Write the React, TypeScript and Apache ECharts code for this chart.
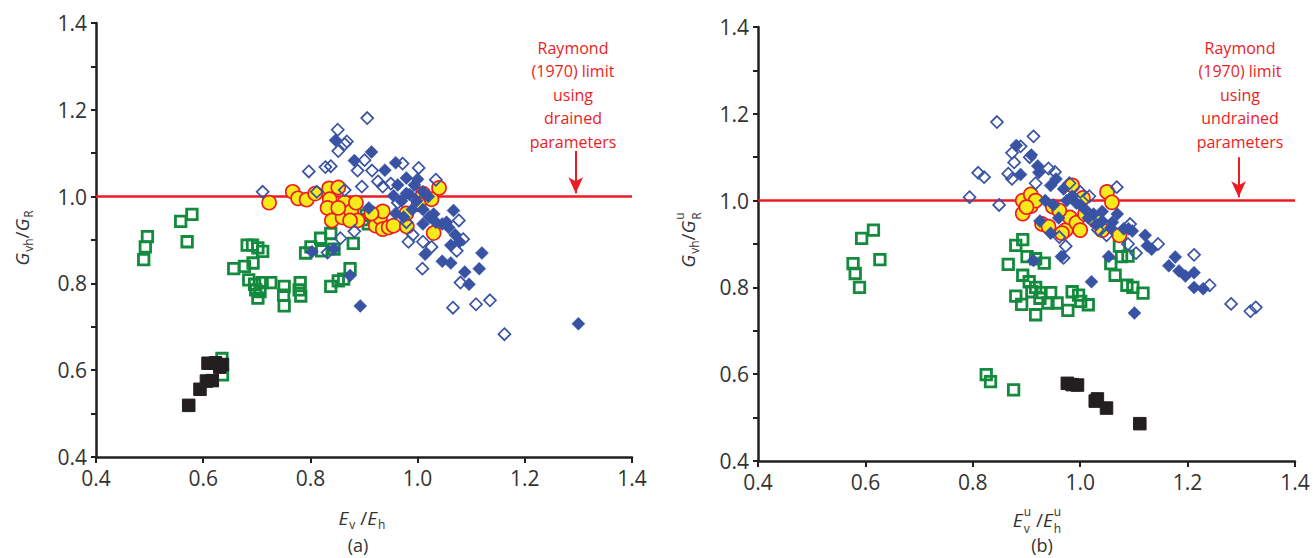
import React, { useEffect, useRef } from "react";
import * as echarts from "echarts";

// ---------- data: panel (a) drained ----------
const blackA = [[0.573,0.519],[0.594,0.556],[0.606,0.575],[0.617,0.576],[0.609,0.616],[0.623,0.617],[0.636,0.613],[0.631,0.607]];
const greenA = [
  [0.489,0.855],[0.492,0.884],[0.496,0.908],[0.558,0.943],[0.579,0.959],[0.570,0.896],
  [0.635,0.627],[0.636,0.589],[0.631,0.609],
  [0.682,0.888],[0.692,0.888],[0.702,0.882],[0.711,0.874],[0.657,0.834],[0.677,0.839],[0.693,0.847],[0.685,0.808],[0.696,0.798],[0.702,0.766],[0.706,0.781],[0.710,0.802],[0.726,0.802],[0.751,0.793],[0.750,0.773],[0.751,0.748],[0.781,0.802],[0.779,0.785],[0.782,0.771],[0.698,0.785],
  [0.791,0.870],[0.801,0.884],[0.819,0.904],[0.838,0.915],[0.821,0.875],[0.880,0.892],[0.838,0.793],[0.852,0.806],[0.862,0.810],[0.874,0.834],[0.844,0.879],[0.904,0.957],[0.908,0.937],[0.898,0.947]
];
const yellowA = [[0.723,0.986],[0.767,1.011],[0.777,0.996],[0.793,0.993],[0.809,1.007],[0.835,1.019],[0.852,1.021],[0.836,0.994],[0.832,0.974],[0.840,0.945],[0.860,0.952],[0.864,0.986],[0.876,0.966],[0.885,0.986],[0.888,0.945],[0.874,0.945],[0.852,0.974],[0.922,0.933],[0.930,0.952],[0.935,0.966],[0.935,0.925],[0.946,0.929],[0.955,0.933],[0.980,0.931],[1.010,1.007],[1.026,0.994],[1.040,1.020],[1.030,0.916],[0.979,0.961],[1.002,0.982],[0.914,0.961]];
const blueFilledA = [[0.847,1.130],[0.882,1.083],[0.914,1.103],[0.939,1.061],[0.959,1.078],[0.979,1.043],[0.994,1.027],[1.010,1.011],[0.955,1.002],[0.979,1.007],[0.998,0.990],[1.010,0.970],[1.022,0.953],[1.034,0.941],[1.046,0.937],[1.058,0.929],[1.070,0.912],[1.067,0.968],[1.010,0.937],[1.014,0.867],[1.046,0.851],[1.062,0.847],[1.088,0.826],[1.096,0.798],[1.115,0.834],[1.120,0.870],[0.893,0.748],[1.300,0.707],[0.803,0.873],[0.844,0.879],[0.874,0.818],[0.909,0.974],[0.974,0.953],[0.959,0.961],[0.990,0.970],[1.078,0.896],[1.062,0.888],[1.054,0.941],[0.963,1.027],[0.985,1.005],[1.000,1.040],[0.970,0.990],[1.030,0.960],[1.020,1.000]];
const blueOpenA = [[0.711,1.011],[0.797,1.058],[0.812,1.011],[0.828,1.068],[0.838,1.070],[0.851,1.154],[0.852,1.105],[0.864,1.121],[0.868,1.127],[0.864,1.015],[0.896,1.023],[0.888,1.060],[0.906,1.181],[0.901,1.084],[0.915,1.060],[0.926,1.035],[0.935,1.023],[0.972,1.076],[1.002,1.066],[1.034,1.039],[0.882,0.920],[0.856,0.904],[0.832,0.871],[0.983,0.896],[0.991,0.912],[1.010,0.896],[1.026,0.884],[1.009,0.834],[1.077,0.945],[1.085,0.902],[1.073,0.875],[1.080,0.802],[1.066,0.744],[1.109,0.752],[1.135,0.761],[1.162,0.683],[0.963,0.986],[0.979,0.941],[0.950,1.030],[1.000,1.010]];

// ---------- data: panel (b) undrained ----------
const blackB = [[0.976,0.579],[0.985,0.576],[0.995,0.575],[1.032,0.543],[1.028,0.538],[1.049,0.522],[1.111,0.486]];
const greenB = [
  [0.577,0.855],[0.581,0.832],[0.589,0.800],[0.593,0.913],[0.615,0.932],[0.627,0.864],
  [0.825,0.599],[0.833,0.583],[0.876,0.564],
  [0.866,0.853],[0.880,0.897],[0.893,0.910],[0.901,0.871],[0.917,0.866],[0.933,0.856],[0.893,0.828],[0.905,0.813],[0.917,0.800],[0.880,0.780],[0.891,0.761],[0.917,0.737],[0.927,0.788],[0.945,0.788],[0.957,0.764],[0.977,0.747],[0.985,0.790],[0.997,0.782],[1.001,0.768],[1.015,0.760],[0.940,0.764],[0.910,0.790],[0.925,0.775],
  [1.057,0.855],[1.065,0.828],[1.077,0.871],[1.089,0.872],[1.073,0.895],[1.087,0.805],[1.098,0.800],[1.117,0.787]
];
const yellowB = [[0.893,1.000],[0.893,0.970],[0.908,0.987],[0.908,1.014],[0.917,1.000],[0.929,0.946],[0.941,0.940],[0.949,0.986],[0.973,0.932],[0.981,0.961],[0.985,1.035],[0.993,0.949],[1.000,0.932],[1.005,1.006],[1.009,0.969],[1.041,0.932],[1.050,1.020],[1.059,0.996],[1.073,0.920],[0.961,0.977],[0.966,0.925],[1.029,0.953],[0.900,0.985]];
const blueFilledB = [[0.881,1.127],[0.889,1.060],[0.909,1.105],[0.921,1.080],[0.923,1.065],[0.945,1.035],[0.955,1.050],[0.969,1.027],[0.985,1.010],[0.993,0.994],[1.009,0.980],[1.025,0.969],[1.041,0.953],[1.057,0.937],[1.069,0.969],[1.081,0.935],[1.097,0.930],[1.121,0.920],[1.125,0.896],[1.133,0.888],[1.165,0.850],[1.177,0.870],[1.184,0.838],[1.196,0.826],[1.212,0.834],[1.212,0.800],[1.229,0.797],[0.925,0.953],[0.945,0.925],[0.965,0.871],[0.913,0.862],[1.021,0.813],[1.053,0.871],[1.101,0.741],[1.041,0.975],[1.001,0.990],[0.950,0.990],[0.935,1.000],[0.960,0.960],[0.975,1.000],[1.015,0.960],[1.030,0.945],[1.060,0.950],[1.090,0.935]];
const blueOpenB = [[0.794,1.008],[0.810,1.064],[0.821,1.054],[0.845,1.181],[0.849,0.990],[0.866,1.062],[0.873,1.050],[0.877,1.088],[0.873,1.110],[0.889,1.125],[0.913,1.148],[0.906,1.100],[0.917,1.040],[0.941,1.074],[0.953,1.066],[1.068,1.031],[1.017,1.010],[0.961,0.916],[0.973,0.895],[0.969,0.868],[1.093,0.946],[1.089,0.900],[1.104,0.879],[1.145,0.900],[1.212,0.875],[1.241,0.805],[1.281,0.762],[1.317,0.745],[1.327,0.754],[1.033,0.933],[1.049,0.920],[0.980,1.040],[1.000,1.020]];

// ---------- reference line / annotation ----------
const axisMin = 0.4;
const axisMax = 1.4;
const raymondLimit = 1.0;
const arrowX = 1.295;
const arrowTopA = 1.105;
const arrowTopB = 1.100;
const arrowTip = 1.008;
const noteA = "Raymond\n(1970) limit\nusing\ndrained\nparameters";
const noteB = "Raymond\n(1970) limit\nusing\nundrained\nparameters";

const FONT = "'Open Sans', 'Noto Sans', sans-serif";
const TXT = "#333333";
const RED = "#ec1c24";
const BLUE = "#3953a4";
const GREEN = "#138a3c";
const YELLOW = "#f7ea1a";
const BLACK = "#231f20";

let measureCtx: CanvasRenderingContext2D | null = null;
function measure(text: string, size: number, italic: boolean) {
  if (!measureCtx) measureCtx = document.createElement("canvas").getContext("2d");
  measureCtx!.font = `${italic ? "italic " : ""}${size}px 'Open Sans'`;
  return measureCtx!.measureText(text).width;
}

type Tok = { t?: string; size?: number; italic?: boolean; dy?: number; sup?: string; sub?: string };

function buildTitle(tokens: Tok[], cx: number, cy: number, rotation: number) {
  const children: any[] = [];
  let x = 0;
  const subSize = 12;
  for (const tk of tokens) {
    if (tk.sup !== undefined || tk.sub !== undefined) {
      const w1 = tk.sup ? measure(tk.sup, subSize, false) : 0;
      const w2 = tk.sub ? measure(tk.sub, subSize, false) : 0;
      const stacked = !!(tk.sup && tk.sub);
      if (tk.sup) children.push({ type: "text", x: x + 1, y: -9, style: { text: tk.sup, fontSize: subSize, lineHeight: 12, fontFamily: FONT, fill: TXT, align: "left", verticalAlign: "middle" } });
      if (tk.sub) children.push({ type: "text", x: x + 1, y: stacked ? 8 : 6, style: { text: tk.sub, fontSize: subSize, lineHeight: 12, fontFamily: FONT, fill: TXT, align: "left", verticalAlign: "middle" } });
      x += Math.max(w1, w2) + 1;
    } else {
      const size = tk.size || 19;
      const w = measure(tk.t!, size, !!tk.italic);
      children.push({ type: "text", x, y: tk.dy || 0, style: { text: tk.t, fontSize: size, fontStyle: tk.italic ? "italic" : "normal", fontFamily: FONT, fill: TXT, align: "left", verticalAlign: "middle" } });
      x += w;
    }
  }
  const total = x;
  children.forEach((c) => (c.x -= total / 2));
  return { type: "group", x: cx, y: cy, rotation, children };
}

function scatter(name: string, data: number[][], idx: number, symbol: string, size: number, itemStyle: any, z: number) {
  return { name, type: "scatter", xAxisIndex: idx, yAxisIndex: idx, data, symbol, symbolSize: size, itemStyle: { opacity: 1, ...itemStyle }, z, silent: true };
}

function axisPair(idx: number) {
  const common = {
    type: "value", gridIndex: idx, min: axisMin, max: axisMax,
    axisLine: { show: true, onZero: false, lineStyle: { color: BLACK, width: 2.5 } },
    splitLine: { show: false },
  };
  return {
    x: { ...common, interval: 0.2,
      axisTick: { show: true, length: 6, lineStyle: { color: BLACK, width: 2 } },
      axisLabel: { fontSize: 21, fontFamily: FONT, color: TXT, margin: 10, formatter: (v: number) => v.toFixed(1) } },
    y: { ...common, interval: 0.1,
      axisTick: { show: true, length: 5, lineStyle: { color: BLACK, width: 2 } },
      axisLabel: { fontSize: 21, fontFamily: FONT, color: TXT, margin: 9,
        formatter: (v: number) => { const k = Math.round(v * 10); return k % 2 === 0 ? (k / 10).toFixed(1) : ""; } } },
  };
}

export default function App() {
  const ref = useRef<HTMLDivElement>(null);
  useEffect(() => {
    const chart = echarts.init(ref.current!, null, { renderer: "svg" });
    const a = axisPair(0);
    const b = axisPair(1);
    const series: any[] = [];
    [0, 1].forEach((i) => {
      const top = i === 0 ? arrowTopA : arrowTopB;
      series.push({
        type: "line", xAxisIndex: i, yAxisIndex: i, symbol: "none", silent: true, z: 1,
        data: [[axisMin, raymondLimit], [axisMax, raymondLimit]],
        lineStyle: { color: RED, width: 2.5 },
        markLine: {
          silent: true, symbol: ["none", "arrow"], symbolSize: [11, 16],
          label: { show: false },
          lineStyle: { color: RED, width: 2, type: "solid" },
          data: [[{ coord: [arrowX, top] }, { coord: [arrowX, arrowTip] }]],
        },
      });
    });
    const green = { color: "transparent", borderColor: GREEN, borderWidth: 2.8 };
    const black = { color: BLACK, borderColor: BLACK, borderWidth: 1 };
    const yellow = { color: YELLOW, borderColor: RED, borderWidth: 1.7 };
    const bf = { color: BLUE, borderColor: BLUE, borderWidth: 0.5 };
    const bo = { color: "transparent", borderColor: BLUE, borderWidth: 1.7 };
    series.push(
      scatter("greenA", greenA, 0, "rect", 10.5, green, 2),
      scatter("blackA", blackA, 0, "rect", 12.5, black, 3),
      scatter("yellowA", yellowA, 0, "circle", 14, yellow, 4),
      scatter("blueFilledA", blueFilledA, 0, "diamond", 13, bf, 5),
      scatter("blueOpenA", blueOpenA, 0, "diamond", 12, bo, 6),
      scatter("greenB", greenB, 1, "rect", 10.5, green, 2),
      scatter("blackB", blackB, 1, "rect", 12.5, black, 3),
      scatter("yellowB", yellowB, 1, "circle", 14, yellow, 4),
      scatter("blueFilledB", blueFilledB, 1, "diamond", 13, bf, 5),
      scatter("blueOpenB", blueOpenB, 1, "diamond", 12, bo, 6),
    );
    const noteStyle = (text: string) => ({ text, fontSize: 16, fontFamily: FONT, fill: RED, align: "center", verticalAlign: "top", lineHeight: 23.5 });
    chart.setOption({
      animation: false,
      grid: [
        { left: 96, top: 23, width: 536, height: 434, containLabel: false },
        { left: 758, top: 27, width: 537, height: 434, containLabel: false },
      ],
      xAxis: [a.x, b.x],
      yAxis: [a.y, b.y],
      series,
      graphic: [
        buildTitle([{ t: "G", italic: true }, { sub: "vh" }, { t: "/" }, { t: "G", italic: true }, { sub: "R" }], 22, 238, Math.PI / 2),
        buildTitle([{ t: "G", italic: true }, { sub: "vh" }, { t: "/" }, { t: "G", italic: true }, { sup: "u", sub: "R" }], 688, 240, Math.PI / 2),
        buildTitle([{ t: "E", italic: true }, { sub: "v" }, { t: " /" }, { t: "E", italic: true }, { sub: "h" }], 362, 518, 0),
        buildTitle([{ t: "E", italic: true }, { sup: "u", sub: "v" }, { t: " /" }, { t: "E", italic: true }, { sup: "u", sub: "h" }], 1037, 520, 0),
        { type: "text", x: 358, y: 545, style: { text: "(a)", fontSize: 18, lineHeight: 20, fontFamily: FONT, fill: TXT, align: "center", verticalAlign: "middle" } },
        { type: "text", x: 1042, y: 545, style: { text: "(b)", fontSize: 18, lineHeight: 20, fontFamily: FONT, fill: TXT, align: "center", verticalAlign: "middle" } },
        { type: "text", x: 573, y: 36, style: noteStyle(noteA) },
        { type: "text", x: 1240, y: 36, style: noteStyle(noteB) },
      ],
    });
    return () => chart.dispose();
  }, []);
  return <div ref={ref} style={{ position: "absolute", left: 0, top: 0, width: 1313, height: 558 }} />;
}
